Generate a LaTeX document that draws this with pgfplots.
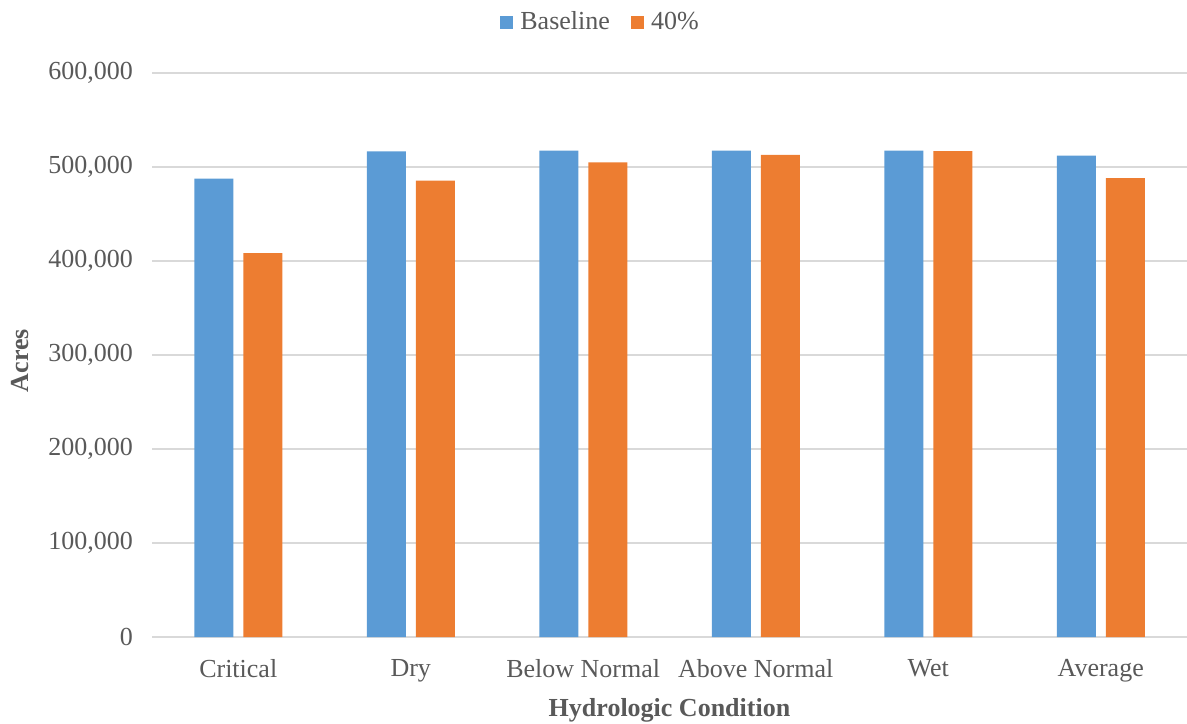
\documentclass[border=0pt]{standalone}
\usepackage{pgfplots}
\pgfplotsset{compat=1.18}
\usepackage{fontspec}
\setmainfont{Liberation Serif}
\definecolor{cblue}{HTML}{5B9BD5}
\definecolor{corange}{HTML}{ED7D31}
\definecolor{tgray}{HTML}{595959}
\definecolor{ggray}{HTML}{D9D9D9}
\begin{document}
\begin{tikzpicture}
\useasboundingbox (0,0) rectangle (593.5pt,361.5pt);
\begin{axis}[
  at={(76pt,43pt)}, anchor=south west,
  scale only axis, width=517.5pt, height=282pt,
  ybar=5pt, bar width=19.5pt,
  xmin=-0.5, xmax=5.5, ymin=0, ymax=600000,
  xtick=data,
  xticklabels={Critical,Dry,Below Normal,Above Normal,Wet,Average},
  ytick={0,100000,200000,300000,400000,500000,600000},
  scaled y ticks=false,
  /pgf/number format/assume math mode=true,
  yticklabel={\pgfmathprintnumber[fixed,1000 sep={,}]{\tick}},
  major tick length=0pt,
  axis x line*=bottom, axis y line*=left,
  y axis line style={draw=none},
  x axis line style={draw=ggray, line width=1pt},
  ymajorgrids, grid style={draw=ggray, line width=0.8pt},
  tick label style={font=\fontsize{13}{15}\selectfont, text=tgray},
  yticklabel style={xshift=-6pt},
  xticklabel style={yshift=-7.5pt},
  xlabel={Hydrologic Condition}, ylabel={Acres},
  label style={font=\fontsize{13}{15}\selectfont\bfseries, text=tgray},
  xlabel style={at={(axis description cs:0.5,0)}, anchor=center, yshift=-36.5pt},
  ylabel style={at={(axis description cs:-0.1275,0.49)}, anchor=center},
  legend style={at={(axis description cs:0.4343,1.090)}, anchor=center, draw=none,
    font=\fontsize{13}{15}\selectfont, text=tgray, legend columns=2,
    /tikz/every odd column/.append style={column sep=1.5pt},
    /tikz/every even column/.append style={column sep=8.5pt}},
  legend image code/.code={\fill[#1] (0pt,-3.3pt) rectangle (6.6pt,3.3pt);},
]
\addplot[fill=cblue, draw=none] coordinates {(0,487700) (1,516700) (2,517400) (3,517400) (4,517400) (5,512000)};
\addplot[fill=corange, draw=none] coordinates {(0,408500) (1,485500) (2,505000) (3,512800) (4,517000) (5,488300)};
\legend{Baseline,40\%}
\end{axis}
\end{tikzpicture}
\end{document}
